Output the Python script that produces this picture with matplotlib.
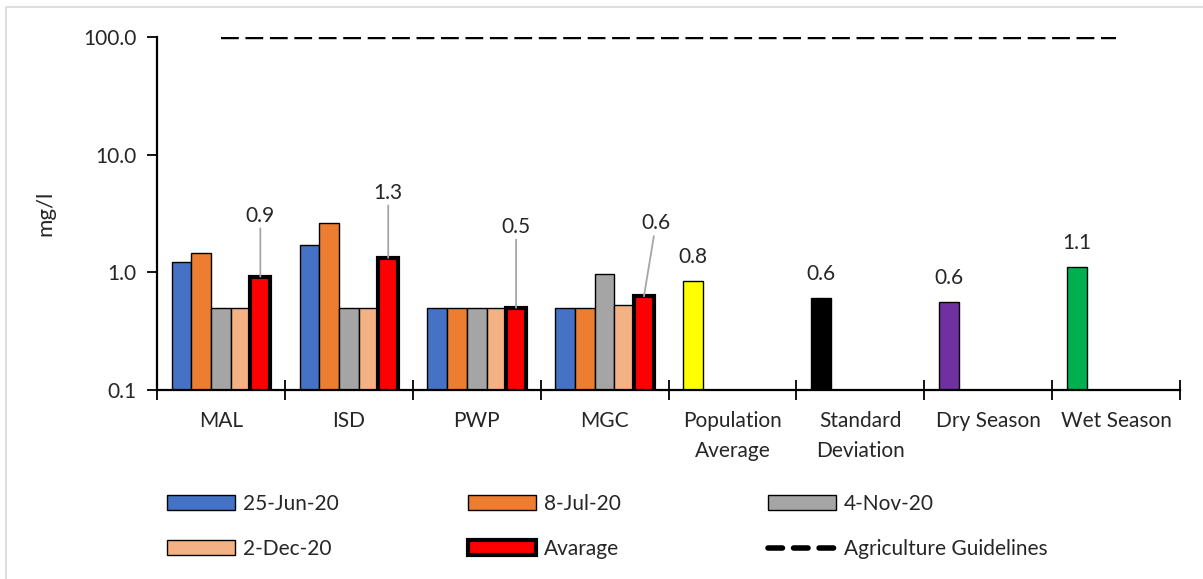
import numpy as np
import matplotlib
matplotlib.use("Agg")
import matplotlib.pyplot as plt
from matplotlib.patches import Rectangle

plt.rcParams["font.family"] = ["Lato", "DejaVu Sans"]

# data
sites = ["MAL", "ISD", "PWP", "MGC"]
summary_cats = ["Population\nAverage", "Standard\nDeviation", "Dry Season", "Wet Season"]
categories = sites + summary_cats

jun25 = [1.22, 1.71, 0.5, 0.5]
jul08 = [1.46, 2.62, 0.5, 0.5]
nov04 = [0.5, 0.5, 0.5, 0.96]
dec02 = [0.5, 0.5, 0.5, 0.53]
average = [0.92, 1.33, 0.5, 0.625]
summary_vals = [0.84, 0.60, 0.56, 1.12]
summary_labels = ["0.8", "0.6", "0.6", "1.1"]
avg_labels = ["0.9", "1.3", "0.5", "0.6"]
guideline = 100.0

series = [
    ("25-Jun-20", jun25, "#4472C4"),
    ("8-Jul-20", jul08, "#ED7D31"),
    ("4-Nov-20", nov04, "#A5A5A5"),
    ("2-Dec-20", dec02, "#F4B183"),
]
summary_colors = ["#FFFF00", "#000000", "#7030A0", "#00B050"]
FS = 15
TXT = "#262626"

fig = plt.figure(figsize=(12.03, 5.79), dpi=100)
ax = fig.add_axes([157 / 1203, 1 - 390 / 579, (1180 - 157) / 1203, (390 - 37) / 579])
ax.set_yscale("log")

w = 0.154
x_sites = np.arange(len(sites))
handles = {}
for k, (name, vals, col) in enumerate(series):
    handles[name] = ax.bar(x_sites + (k - 2) * w, vals, w,
                           color=col, edgecolor="black", linewidth=1.0, label=name)
handles["Avarage"] = ax.bar(x_sites + 2 * w, average, w, color="#FF0000",
                            edgecolor="black", linewidth=3.0, label="Avarage")

x_sum = np.arange(len(sites), len(categories))
ax.bar(x_sum - 2 * w, summary_vals, w, color=summary_colors,
       edgecolor="black", linewidth=1.0)

gl, = ax.plot([0, len(categories) - 1], [guideline, guideline], color="black",
              linestyle=(0, (4.0, 1.5)), linewidth=3.2, label="Agriculture Guidelines")

# labels on the average bars with leader lines (pixel offsets)
avg_offsets = [(0, 61), (0, 65), (0, 81), (12, 73)]
for xi, v, lab, (dx, dy) in zip(x_sites + 2 * w, average, avg_labels, avg_offsets):
    ax.annotate(lab, xy=(xi, v), xytext=(dx, dy), textcoords="offset pixels",
                ha="center", va="center", fontsize=FS, color=TXT,
                arrowprops=dict(arrowstyle="-", color="#A6A6A6", lw=1.3,
                                shrinkA=0, shrinkB=0))

for xi, v, lab in zip(x_sum - 2 * w, summary_vals, summary_labels):
    ax.annotate(lab, xy=(xi, v), xytext=(0, 24), textcoords="offset pixels",
                ha="center", va="center", fontsize=FS, color=TXT)

ax.set_ylim(0.1, 100)
ax.set_xlim(-0.5, len(categories) - 0.5)
ax.set_yticks([0.1, 1, 10, 100])
ax.set_yticklabels(["0.1", "1.0", "10.0", "100.0"])
ax.yaxis.set_minor_locator(matplotlib.ticker.NullLocator())
ax.set_xticks(np.arange(len(categories) + 1) - 0.5)
ax.set_xticklabels([])
ax.set_xticks(np.arange(len(categories)), minor=True)
ax.set_xticklabels(categories, minor=True)
ax.tick_params(axis="x", which="major", direction="inout", length=14, width=1.3)
ax.tick_params(axis="x", which="minor", length=0, pad=15, labelsize=FS, labelcolor=TXT)
ax.tick_params(axis="y", direction="out", length=7, width=1.3, labelsize=FS,
               labelcolor=TXT, pad=8)
for lab in ax.get_xticklabels(minor=True):
    lab.set_verticalalignment("top")
    lab.set_linespacing(1.65)

ax.spines["top"].set_visible(False)
ax.spines["right"].set_visible(False)
ax.spines["left"].set_linewidth(1.6)
ax.spines["bottom"].set_linewidth(1.6)
ax.set_ylabel("mg/l", fontsize=FS + 1, color=TXT, labelpad=20)

# legend entries placed one by one, like the reference layout
leg_line, = ax.plot([], [], color="black", linewidth=4.0, solid_capstyle="round",
                    dash_capstyle="round", linestyle=(0, (2.6, 2.0)))
handles["Agriculture Guidelines"] = leg_line
legend_layout = [
    ("25-Jun-20", 167, 504), ("8-Jul-20", 468, 504), ("4-Nov-20", 768, 504),
    ("2-Dec-20", 167, 549), ("Avarage", 468, 549), ("Agriculture Guidelines", 768, 549),
]
for name, lx, ly in legend_layout:
    fig.legend([handles[name]], [name], loc="center left",
               bbox_to_anchor=(lx / 1203, 1 - ly / 579), frameon=False, fontsize=FS,
               handlelength=3.26, handleheight=0.7, handletextpad=0.38,
               borderaxespad=0, borderpad=0, labelcolor=TXT)

fig.add_artist(Rectangle((6 / 1203, -0.01), 1.02, 1 - 7 / 579 + 0.01, transform=fig.transFigure,
                         fill=False, edgecolor="#D9D9D9", linewidth=1.2))

fig.savefig("out.png", dpi=100)
